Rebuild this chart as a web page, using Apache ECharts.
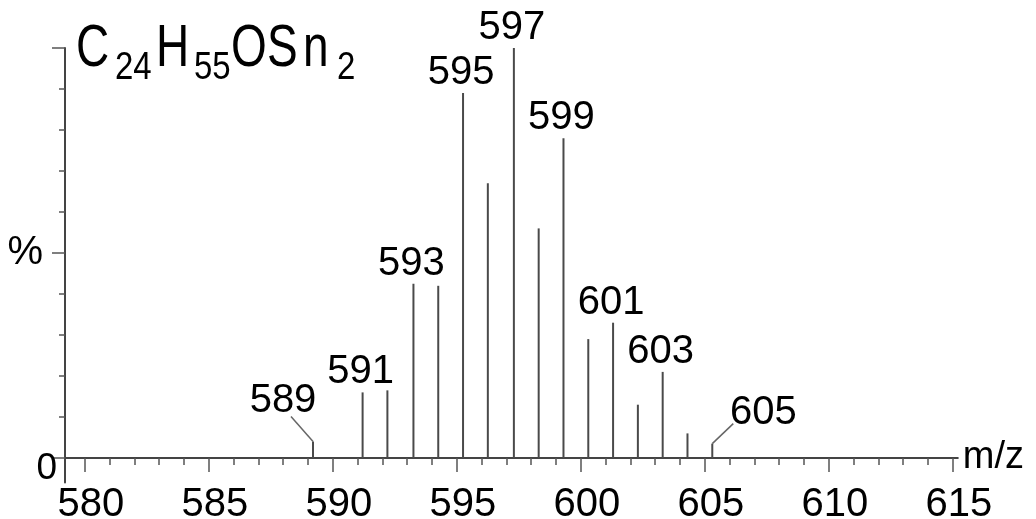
<!DOCTYPE html>
<html><head><meta charset="utf-8">
<script src="https://cdn.jsdelivr.net/npm/echarts@6/dist/echarts.min.js"></script>
<style>html,body{margin:0;padding:0;background:#fff}#c{width:1036px;height:519px}</style>
</head><body><div id="c"></div>
<script>
// ---- data ----
const mz = [589.2, 591.2, 592.2, 593.25, 594.25, 595.25, 596.25, 597.3, 598.3, 599.3, 600.3, 601.3, 602.3, 603.3, 604.3, 605.3];
const intensity = [4, 16, 16.5, 42.5, 42, 89, 67, 100, 56, 78, 29, 33, 13, 21, 6, 3.5];
const peakLabels = ['589', '591', '', '593', '', '595', '', '597', '', '599', '', '601', '', '603', '', '605'];
const xTickLabels = [580, 585, 590, 595, 600, 605, 610, 615];
const xMinorTicks = [580,581,582,583,584,585,586,587,588,589,590,591,592,593,594,595,596,597,598,599,600,601,602,603,604,605,606,607,608,609,610,611,612,613,614,615];
const yMinorTicks = [0, 10, 20, 30, 40, 50, 60, 70, 80, 90, 100];
const yMajorTicks = [0, 50, 100];
const yTickLabels = [0, 50];
const yLabelText = {0: '0', 50: '%'};
const xName = 'm/z';
// title: formula pieces (text, isSubscript)  ->  C24H55OSn2
const titleParts = [['C', false], ['24', true], ['H', false], ['55', true], ['O', false], ['S', false], ['n', false], ['2', true]];

// ---- styling ----
const FONT = '"Liberation Sans", Arial, sans-serif';
const leaders = {
  '589': {lx: -22, ly: -25, tx: -30, ty: -41},
  '605': {lx: 21, ly: -20, tx: 51, ty: -31}
};
const stickColor = '#4a4a4a';
const titleX = [76, 115, 156, 194, 231, 267, 303, 337];

const chart = echarts.init(document.getElementById('c'), null, {renderer: 'canvas'});

function renderItem(params, api) {
  const x = api.value(0), y = api.value(1);
  const top = api.coord([x, y]);
  const base = api.coord([x, 0]);
  const children = [{
    type: 'line',
    shape: {x1: top[0], y1: base[1], x2: top[0], y2: top[1]},
    style: {stroke: stickColor, lineWidth: 2}
  }];
  const lab = peakLabels[params.dataIndex];
  if (lab) {
    const L = leaders[lab];
    let tx = top[0] - 2, ty = top[1] - 20;
    if (L) {
      children.push({
        type: 'line',
        shape: {x1: top[0], y1: top[1], x2: top[0] + L.lx, y2: top[1] + L.ly},
        style: {stroke: '#666', lineWidth: 1.5}
      });
      tx = top[0] + L.tx; ty = top[1] + L.ty;
    }
    children.push({
      type: 'text', x: tx, y: ty,
      style: {text: lab, fill: '#000', font: '40px ' + FONT, align: 'center', verticalAlign: 'middle'}
    });
  }
  return {type: 'group', children};
}

const titleGraphics = titleParts.map((p, i) => ({
  type: 'text', x: titleX[i], y: p[1] ? 68.5 : 50, scaleY: p[1] ? 1.15 : 1.3,
  style: {text: p[0], fill: '#000', font: (p[1] ? '33px ' : '46px ') + FONT, align: 'left', verticalAlign: 'middle'}
}));

const option = {
  backgroundColor: '#fff',
  animation: false,
  grid: {left: 65, right: 78.2, top: 48, bottom: 36.4, containLabel: false, outerBoundsMode: 'none'},
  xAxis: [{
    type: 'value', min: 579.2, max: 615.2, position: 'bottom',
    axisLine: {show: true, onZero: true, onZeroAxisIndex: 0, lineStyle: {color: '#444', width: 2}},
    axisTick: {show: true, customValues: xMinorTicks, length: 7, lineStyle: {color: '#555', width: 1.5}},
    axisLabel: {show: false},
    splitLine: {show: false},
    name: xName, nameLocation: 'end', nameGap: 5,
    nameTextStyle: {fontSize: 38, color: '#000', fontFamily: FONT}
  }, {
    type: 'value', min: 579.2, max: 615.2, position: 'bottom',
    axisLine: {show: true, onZero: true, onZeroAxisIndex: 0, lineStyle: {color: 'rgba(0,0,0,0)'}},
    axisTick: {show: true, customValues: xTickLabels, length: 14, lineStyle: {color: '#555', width: 1.5}},
    axisLabel: {show: true, customValues: xTickLabels, margin: 2, fontSize: 40, color: '#000',
      fontFamily: FONT, padding: [0, 0, 0, 12]},
    splitLine: {show: false}
  }],
  yAxis: [{
    type: 'value', min: -6, max: 100, position: 'left',
    axisLine: {show: true, onZero: false, lineStyle: {color: '#444', width: 2}},
    axisTick: {show: true, customValues: yMinorTicks, length: 6, lineStyle: {color: '#555', width: 1.5}},
    axisLabel: {show: false},
    splitLine: {show: false}
  }, {
    type: 'value', min: -6, max: 100, position: 'left',
    axisLine: {show: true, onZero: false, lineStyle: {color: 'rgba(0,0,0,0)'}},
    axisTick: {show: true, customValues: yMajorTicks, length: 13, lineStyle: {color: '#555', width: 1.5}},
    axisLabel: {
      show: true, customValues: yTickLabels, margin: 8, color: '#000', fontFamily: FONT,
      formatter: v => (v === 0 ? '{z|' + yLabelText[0] + '}' : '{p|' + yLabelText[50] + '}'),
      rich: {
        z: {fontSize: 37, color: '#000', fontFamily: FONT, padding: [22, 0, 0, 0]},
        p: {fontSize: 40, color: '#000', fontFamily: FONT, padding: [0, 14, 0, 0]}
      }
    },
    splitLine: {show: false}
  }],
  graphic: titleGraphics,
  series: [{
    type: 'custom',
    xAxisIndex: 0, yAxisIndex: 0,
    renderItem: renderItem,
    clip: false,
    encode: {x: 0, y: 1},
    data: mz.map((m, i) => [m, intensity[i]])
  }]
};
chart.setOption(option);
</script>
</body></html>
